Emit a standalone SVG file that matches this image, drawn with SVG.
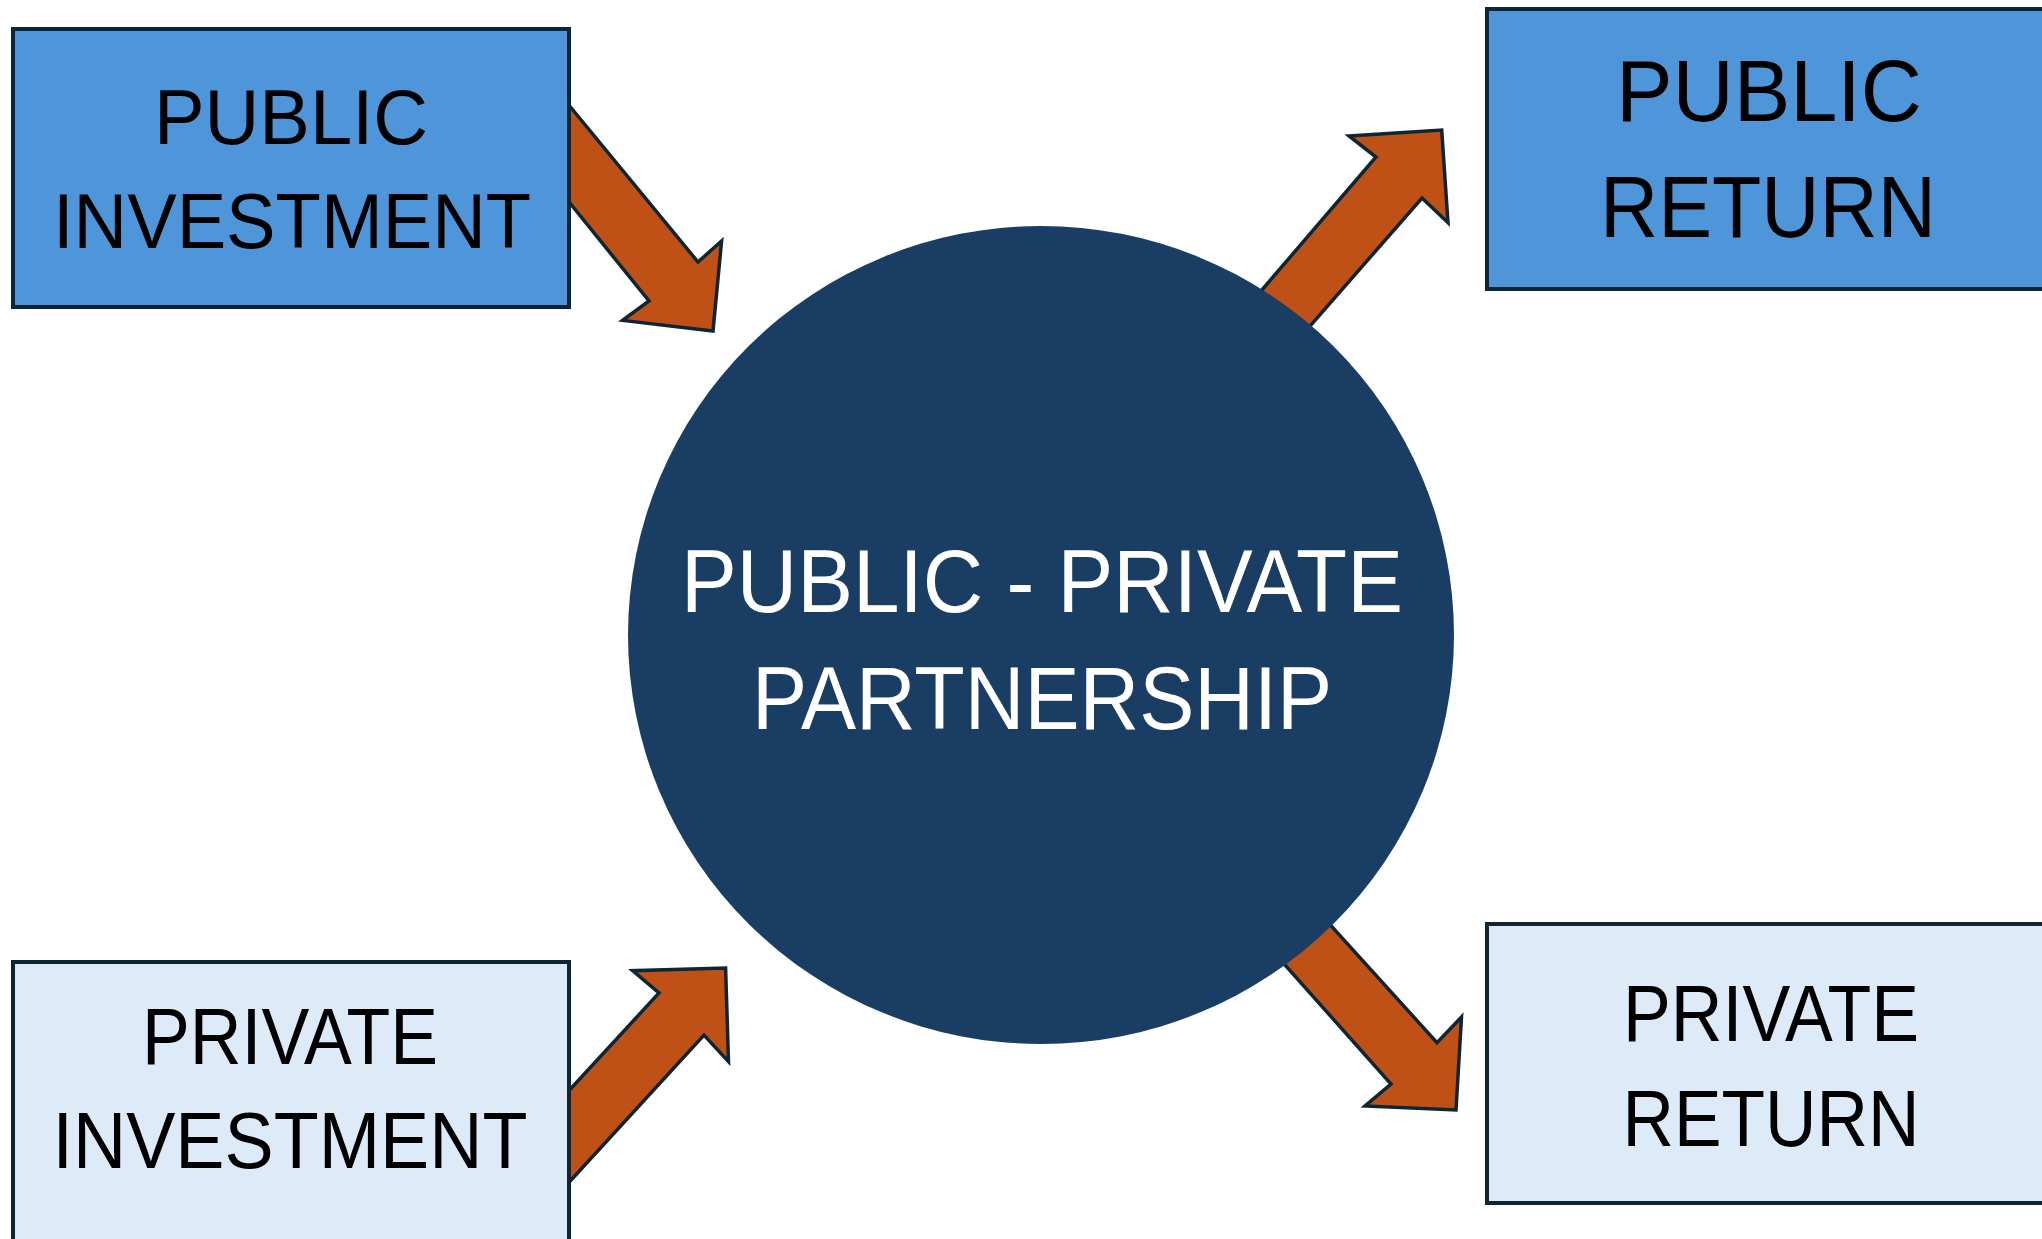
<svg xmlns="http://www.w3.org/2000/svg" width="2042" height="1239" viewBox="0 0 2042 1239">
<style>
.arrow{fill:#BF5116;stroke:#0D2636;stroke-width:3.5;stroke-linejoin:miter}
.box{stroke:#0D2636;stroke-width:4}
.dark{fill:#4F95D9}
.light{fill:#DDEAF7}
.t{font-family:"Liberation Sans",Arial,sans-serif;fill:#000;text-anchor:middle}
.w{font-family:"Liberation Sans",Arial,sans-serif;fill:#fff;text-anchor:middle}
</style>
<rect width="2042" height="1239" fill="#fff"/>
<g id="connectors">
<polygon class="arrow" points="540,70 698,262 721.6,241 713,331 622.6,320.4 649,301 540,166"/>
<polygon class="arrow" points="1201.8,360 1376,157 1349,136 1441.7,130 1448,222.7 1422,198 1255,389"/>
<polygon class="arrow" points="540,1122 659,993 632.6,970.7 725.6,968 728.5,1061.7 704,1035 540,1214"/>
<polygon class="arrow" points="1280,869.3 1437,1042.7 1461.5,1017 1456,1110 1365,1106 1391,1084 1235,908.7"/>
</g>
<g id="public-investment">
<rect class="box dark" x="13" y="29" width="556" height="278"/>
<text class="t" x="291" y="144" font-size="78" textLength="274" lengthAdjust="spacingAndGlyphs">PUBLIC</text>
<text class="t" x="292" y="248" font-size="78" textLength="478" lengthAdjust="spacingAndGlyphs">INVESTMENT</text>
</g>
<g id="public-return">
<rect class="box dark" x="1487" y="9" width="570" height="280"/>
<text class="t" x="1769" y="121" font-size="88" textLength="306" lengthAdjust="spacingAndGlyphs">PUBLIC</text>
<text class="t" x="1768" y="237" font-size="88" textLength="336" lengthAdjust="spacingAndGlyphs">RETURN</text>
</g>
<g id="private-investment">
<rect class="box light" x="13" y="962" width="556" height="300"/>
<text class="t" x="290" y="1064" font-size="79" textLength="296" lengthAdjust="spacingAndGlyphs">PRIVATE</text>
<text class="t" x="290" y="1168" font-size="79" textLength="475" lengthAdjust="spacingAndGlyphs">INVESTMENT</text>
</g>
<g id="private-return">
<rect class="box light" x="1487" y="924" width="570" height="279"/>
<text class="t" x="1771" y="1041" font-size="79" textLength="296" lengthAdjust="spacingAndGlyphs">PRIVATE</text>
<text class="t" x="1771" y="1146" font-size="79" textLength="297" lengthAdjust="spacingAndGlyphs">RETURN</text>
</g>
<g id="partnership">
<ellipse cx="1041" cy="635" rx="413" ry="409" fill="#1A3D63"/>
<text class="w" x="1042" y="612" font-size="89" textLength="722" lengthAdjust="spacingAndGlyphs">PUBLIC - PRIVATE</text>
<text class="w" x="1042" y="729" font-size="89" textLength="580" lengthAdjust="spacingAndGlyphs">PARTNERSHIP</text>
</g>
</svg>
